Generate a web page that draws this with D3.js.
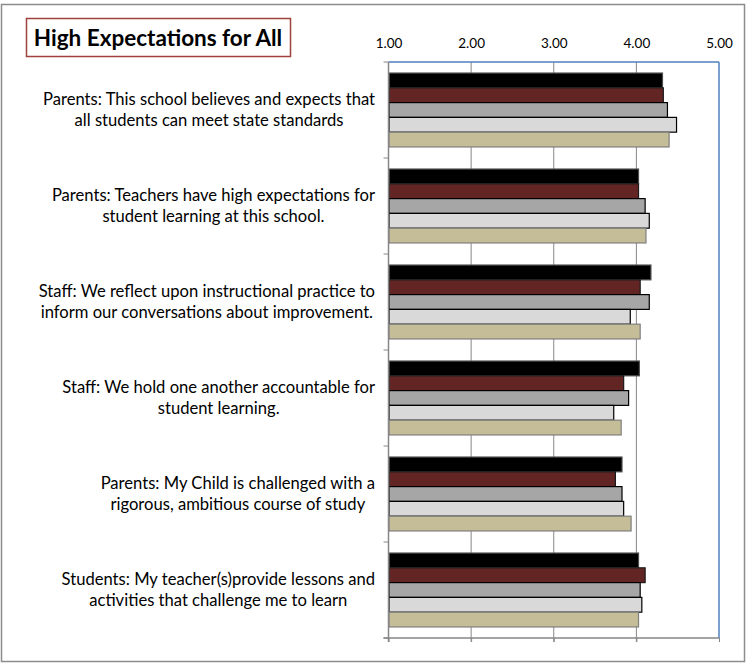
<!DOCTYPE html>
<html>
<head>
<meta charset="utf-8">
<script src="https://cdn.jsdelivr.net/npm/d3@7"></script>
<style>
  body { margin: 0; background: #fff; }
  svg { display: block; font-family: Lato, "Open Sans", sans-serif; }
</style>
</head>
<body>
<div id="chart"></div>
<script>
// categories, top to bottom (two lines each)
var categories = [
  ["Parents: This school believes and expects that", "all students can meet state standards"],
  ["Parents: Teachers have high expectations for", "student learning at this school."],
  ["Staff: We reflect upon instructional practice to", "inform our conversations about improvement."],
  ["Staff: We hold one another accountable for", "student learning."],
  ["Parents: My Child is challenged with a", "rigorous, ambitious course of study"],
  ["Students: My teacher(s)provide lessons and", "activities that challenge me to learn"]
];

var seriesNames = ["Series 1", "Series 2", "Series 3", "Series 4", "Series 5"];
var seriesColors = ["#000000", "#632523", "#a6a6a6", "#d9d9d9", "#c4bd97"];
var seriesStroke = ["#4d4d4d", "#1a1a1a", "#000000", "#000000", "#7f7f7f"];

var series1 = [4.31, 4.02, 4.17, 4.03, 3.82, 4.02];
var series2 = [4.32, 4.02, 4.04, 3.84, 3.74, 4.10];
var series3 = [4.37, 4.10, 4.15, 3.90, 3.82, 4.04];
var series4 = [4.48, 4.15, 3.92, 3.72, 3.84, 4.06];
var series5 = [4.39, 4.11, 4.04, 3.81, 3.93, 4.02];

var xTicks = [1, 2, 3, 4, 5];

var width = 747;
var height = 665;
var plot = {left: 388.5, right: 719, top: 62, bottom: 638};

var allSeries = [series1, series2, series3, series4, series5];
var catKeys = categories.map((c, i) => i);

/* Scales */
var xScale = d3.scaleLinear()
  .domain([1, 5])
  .range([plot.left, plot.right]);

var y0 = d3.scaleBand()
  .domain(catKeys)
  .range([plot.top, plot.bottom]);

var y1 = d3.scaleBand()
  .domain(seriesNames)
  .range([y0.bandwidth() * 0.115, y0.bandwidth() * 0.885]);

var svg = d3.select("#chart").append("svg")
  .attr("width", width)
  .attr("height", height);

/* outer frame */
svg.append("rect")
  .attr("x", 1.5).attr("y", 4.5)
  .attr("width", 743).attr("height", 657)
  .attr("fill", "#fff")
  .attr("stroke", "#8c8c8c")
  .attr("stroke-width", 1.5);

/* title box */
svg.append("rect")
  .attr("x", 26.5).attr("y", 18.5)
  .attr("width", 264).attr("height", 38)
  .attr("fill", "#fff")
  .attr("stroke", "#a0413e")
  .attr("stroke-width", 1.5);

svg.append("text")
  .attr("x", 158).attr("y", 45.5)
  .attr("text-anchor", "middle")
  .style("font-size", "22.5px")
  .style("font-weight", "bold")
  .text("High Expectations for All");

/* gridlines */
svg.append("g")
  .selectAll("line")
  .data(xTicks.slice(1, 4))
  .enter().append("line")
  .attr("x1", d => xScale(d)).attr("x2", d => xScale(d))
  .attr("y1", plot.top).attr("y2", plot.bottom + 4)
  .attr("stroke", "#868686")
  .attr("stroke-width", 1);

/* bars */
var groups = svg.append("g")
  .selectAll("g")
  .data(catKeys)
  .enter().append("g")
  .attr("transform", d => `translate(0, ${y0(d)})`);

groups.selectAll("rect")
  .data(ci => allSeries.map((s, si) => ({name: seriesNames[si], si: si, value: s[ci]})))
  .enter().append("rect")
  .attr("x", xScale(1) + 0.5)
  .attr("y", d => y1(d.name))
  .attr("width", d => xScale(d.value) - xScale(1))
  .attr("height", y1.bandwidth())
  .attr("fill", d => seriesColors[d.si])
  .attr("stroke", d => seriesStroke[d.si])
  .attr("stroke-width", 1.2);

/* plot border: top and right in blue */
svg.append("line")
  .attr("x1", plot.left).attr("x2", plot.right)
  .attr("y1", plot.top).attr("y2", plot.top)
  .attr("stroke", "#4f81bd").attr("stroke-width", 1.5);
svg.append("line")
  .attr("x1", plot.right).attr("x2", plot.right)
  .attr("y1", plot.top).attr("y2", plot.bottom)
  .attr("stroke", "#4f81bd").attr("stroke-width", 1.5);

/* left category axis with ticks at band boundaries */
var boundaries = catKeys.map(d => y0(d)).concat([plot.bottom]);
svg.append("line")
  .attr("x1", plot.left).attr("x2", plot.left)
  .attr("y1", plot.top).attr("y2", plot.bottom + 4)
  .attr("stroke", "#868686").attr("stroke-width", 1.5);
svg.append("g")
  .selectAll("line")
  .data(boundaries)
  .enter().append("line")
  .attr("x1", plot.left - 5).attr("x2", plot.left)
  .attr("y1", d => d).attr("y2", d => d)
  .attr("stroke", "#868686").attr("stroke-width", 1);

/* bottom axis line with ticks */
var xAxisBottom = d3.axisBottom(xScale)
  .tickValues(xTicks)
  .tickSize(4)
  .tickFormat("");
var gb = svg.append("g")
  .attr("transform", `translate(0, ${plot.bottom})`)
  .call(xAxisBottom);
gb.select(".domain").remove();
gb.selectAll(".tick line").attr("stroke", "#868686");
svg.append("line")
  .attr("x1", plot.left - 5).attr("x2", plot.right)
  .attr("y1", plot.bottom).attr("y2", plot.bottom)
  .attr("stroke", "#868686").attr("stroke-width", 1.5);

/* top tick labels */
var xAxisTop = d3.axisTop(xScale)
  .tickValues(xTicks)
  .tickSize(0)
  .tickPadding(0)
  .tickFormat(d3.format(".2f"));
var gt = svg.append("g")
  .attr("transform", `translate(0, 48)`)
  .call(xAxisTop);
gt.select(".domain").remove();
gt.selectAll("text")
  .attr("dy", 0)
  .style("font-family", "Lato, sans-serif")
  .style("font-size", "13.5px")
  .attr("fill", "#000");

/* category labels: block right edge at 375, lines centred */
var labelRight = 375;
var labelSize = 16.6;
var labels = svg.append("g")
  .selectAll("text")
  .data(catKeys)
  .enter().append("text")
  .attr("text-anchor", "middle")
  .style("font-size", labelSize + "px")
  .attr("fill", "#000");

labels.each(function(ci) {
  var t = d3.select(this);
  var cy = y0(ci) + y0.bandwidth() / 2;
  categories[ci].forEach(function(line, li) {
    t.append("tspan")
      .attr("y", cy - 5 + li * 21)
      .text(line);
  });
  var w = d3.max(t.selectAll("tspan").nodes(), n => n.getComputedTextLength());
  t.selectAll("tspan").attr("x", labelRight - w / 2);
});
</script>
</body>
</html>
